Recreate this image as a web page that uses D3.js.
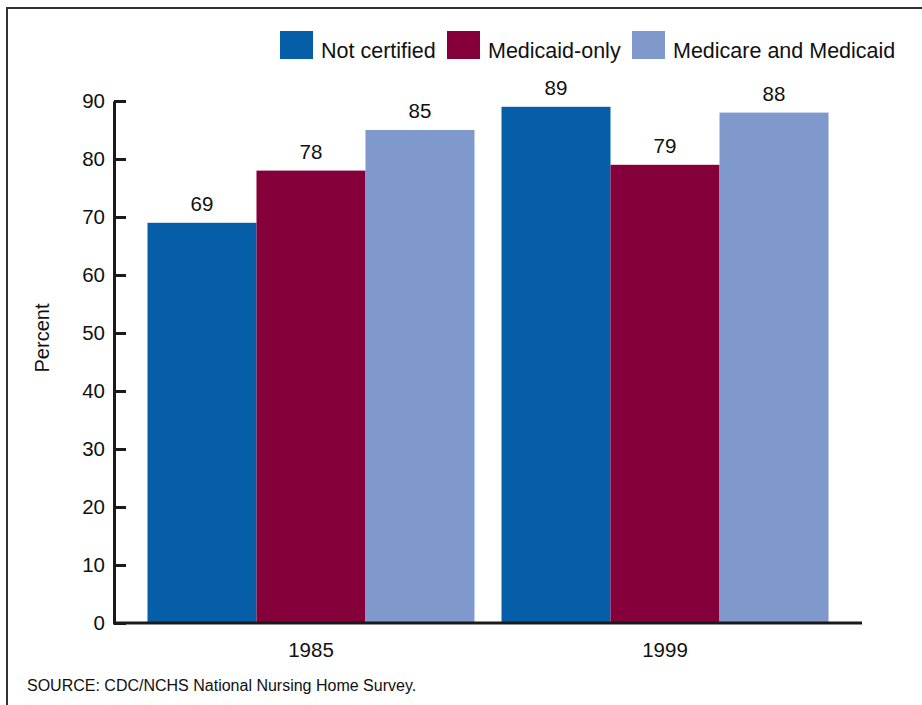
<!DOCTYPE html>
<html>
<head>
<meta charset="utf-8">
<script src="https://cdn.jsdelivr.net/npm/d3@7"></script>
<style>
  html, body { margin: 0; padding: 0; background: #fff; }
  svg { display: block; font-family: "Liberation Sans", Arial, Helvetica, sans-serif; }
</style>
</head>
<body>
<svg id="chart" width="922" height="705"></svg>
<script>
// Nursing home certification status, percent
const years = ["1985", "1999"];
const seriesNames = ["Not certified", "Medicaid-only", "Medicare and Medicaid"];
const seriesColors = ["#065ea9", "#85003a", "#7f99cc"];
const notCertified = [69, 89];
const medicaidOnly = [78, 79];
const medicareAndMedicaid = [85, 88];
const yTicks = [0, 10, 20, 30, 40, 50, 60, 70, 80, 90];
const sourceNote = "SOURCE: CDC/NCHS National Nursing Home Survey.";

const seriesValues = [notCertified, medicaidOnly, medicareAndMedicaid];
const FONT = "Liberation Sans, Arial, sans-serif";

const svg = d3.select("#chart");
const W = 922, H = 705;

// frame: top and left rules
svg.append("line").attr("x1", 7).attr("y1", 8).attr("x2", W).attr("y2", 8)
  .attr("stroke", "#333").attr("stroke-width", 2);
svg.append("line").attr("x1", 7).attr("y1", 7).attr("x2", 7).attr("y2", H)
  .attr("stroke", "#333").attr("stroke-width", 2);

const plot = { left: 114, right: 862, top: 101, bottom: 623 };

const x0 = d3.scaleBand().domain(years)
  .range([plot.left, plot.right])
  .paddingInner(0.0763).paddingOuter(0.0946);
const x1 = d3.scaleBand().domain(seriesNames).range([0, x0.bandwidth()]).padding(0);
const y = d3.scaleLinear().domain([0, 90]).range([plot.bottom, plot.top]);

// bars
const rows = [];
years.forEach((yr, i) => {
  seriesNames.forEach((s, j) => {
    rows.push({ year: yr, series: s, value: seriesValues[j][i], color: seriesColors[j] });
  });
});

const g = svg.append("g");
g.selectAll("rect.bar").data(rows).enter().append("rect")
  .attr("class", "bar")
  .attr("x", d => x0(d.year) + x1(d.series))
  .attr("y", d => y(d.value))
  .attr("width", x1.bandwidth())
  .attr("height", d => y(0) - y(d.value))
  .attr("fill", d => d.color);

// value labels
g.selectAll("text.val").data(rows).enter().append("text")
  .attr("class", "val")
  .attr("x", d => x0(d.year) + x1(d.series) + x1.bandwidth() / 2)
  .attr("y", d => y(d.value) - 12)
  .attr("text-anchor", "middle")
  .attr("font-size", 20.5)
  .attr("fill", "#111")
  .text(d => d.value);

// y axis
const yAxis = d3.axisLeft(y).tickValues(yTicks).tickSize(-12).tickPadding(9).tickSizeOuter(0);
const ya = svg.append("g").attr("transform", `translate(${plot.left},0)`).call(yAxis);
ya.select(".domain").attr("stroke", "#1a1a1a").attr("stroke-width", 3);
ya.selectAll(".tick line").attr("stroke", "#1a1a1a").attr("stroke-width", 3);
ya.selectAll(".tick text").attr("font-size", 20.5).attr("fill", "#111")
  .attr("font-family", FONT);

// x axis baseline and year labels
const xAxis = d3.axisBottom(x0).tickSize(0).tickPadding(19).tickSizeOuter(0);
const xa = svg.append("g").attr("transform", `translate(0,${plot.bottom})`).call(xAxis);
xa.select(".domain").attr("stroke", "#1a1a1a").attr("stroke-width", 3)
  .attr("d", `M${plot.left - 1},0H${plot.right}`);
xa.selectAll(".tick text").attr("font-size", 20.5).attr("fill", "#111")
  .attr("font-family", FONT);

// y axis title
svg.append("text")
  .attr("transform", `translate(49,${(plot.top + plot.bottom) / 2 - 24}) rotate(-90)`)
  .attr("text-anchor", "middle")
  .attr("font-size", 20)
  .attr("fill", "#111")
  .text("Percent");

// legend
const legendItems = [
  { name: seriesNames[0], color: seriesColors[0], x: 280 },
  { name: seriesNames[1], color: seriesColors[1], x: 447 },
  { name: seriesNames[2], color: seriesColors[2], x: 632 }
];
const lg = svg.append("g");
legendItems.forEach(it => {
  lg.append("rect").attr("x", it.x).attr("y", 31).attr("width", 33).attr("height", 28)
    .attr("fill", it.color);
  lg.append("text").attr("x", it.x + 41).attr("y", 58)
    .attr("font-size", 21.5).attr("fill", "#111").text(it.name);
});

// source note
svg.append("text").attr("x", 27).attr("y", 691)
  .attr("font-size", 16).attr("fill", "#111").text(sourceNote);
</script>
</body>
</html>
